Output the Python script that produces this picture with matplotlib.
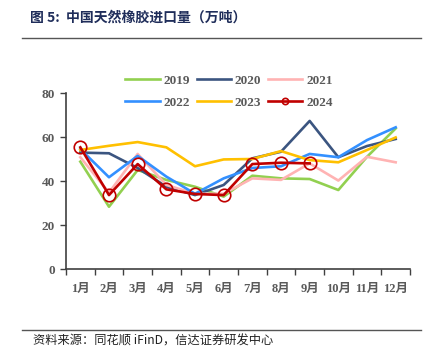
import matplotlib
matplotlib.use("Agg")
import matplotlib.pyplot as plt
from matplotlib.lines import Line2D
import numpy as np

months = ["1月", "2月", "3月", "4月", "5月", "6月", "7月", "8月", "9月", "10月", "11月", "12月"]
y2019 = [48.8, 28.3, 45.0, 40.5, 37.4, 32.9, 42.4, 41.2, 40.9, 35.9, 51.0, 63.9]
y2020 = [52.9, 52.6, 45.9, 37.4, 33.6, 38.2, 50.3, 53.3, 67.3, 50.8, 55.9, 59.1]
y2021 = [50.8, 34.7, 52.3, 38.2, 34.2, 34.2, 41.2, 40.5, 48.0, 40.2, 51.0, 48.5]
y2022 = [54.5, 41.7, 51.4, 42.0, 34.2, 41.2, 45.9, 46.7, 52.3, 50.8, 58.6, 64.4]
y2023 = [54.1, 56.0, 57.7, 55.3, 46.7, 49.8, 50.0, 53.6, 49.5, 48.5, 54.1, 59.8]
y2024 = [55.3, 33.6, 47.7, 36.2, 34.1, 33.6, 47.7, 48.3, 48.0]
yticks = [0, 20, 40, 60, 80]

W, H = 433, 349
fig = plt.figure(figsize=(W / 100, H / 100), dpi=100)
ax = fig.add_axes([66 / W, 1 - 269 / H, (410 - 66) / W, (269 - 93) / H])

serif = ['Liberation Serif', 'Noto Sans CJK SC']
gray = '#595959'
x = np.arange(len(months))
lw = 1.9
series = [("2019", y2019, '#92D050'), ("2020", y2020, '#3B5580'),
          ("2021", y2021, '#FFB3B3'), ("2022", y2022, '#3390FF'),
          ("2023", y2023, '#FFC000')]
handles = {}
for name, vals, c in series:
    h, = ax.plot(x[:len(vals)], vals, color=c, lw=lw, label=name)
    handles[name] = h
h24, = ax.plot(x[:len(y2024)], y2024, color='#C00000', lw=lw, marker='o', ms=9,
               mfc='none', mec='#C00000', mew=1.2, label='2024')
handles['2024'] = h24

ax.set_xlim(-0.5, len(months) - 0.5)
ax.set_ylim(0, 80)
ax.set_yticks(yticks)
ax.set_yticklabels([str(v) for v in yticks], fontfamily=serif, fontweight='bold',
                   color=gray, fontsize=9.5)
ax.set_xticks(x)
ax.set_xticklabels(months, fontfamily=serif, fontweight='bold', color=gray, fontsize=9)
ax.set_xticks(np.arange(-0.5, len(months), 1), minor=True)
ax.tick_params(axis='x', which='major', length=0, pad=10)
ax.tick_params(axis='x', which='minor', length=4, color='#404040', width=1)
ax.tick_params(axis='y', length=4, color='#404040', width=1, pad=4)
for s in ['top', 'right']:
    ax.spines[s].set_visible(False)
for s in ['left', 'bottom']:
    ax.spines[s].set_color('#404040')
    ax.spines[s].set_linewidth(1.2)

# legend filled column-wise; order so that rows read 2019 2020 2021 / 2022 2023 2024
order = ['2019', '2022', '2020', '2023', '2021', '2024']
leg = fig.legend([handles[k] for k in order], order, loc='center',
                 bbox_to_anchor=(229 / W, 1 - 91.5 / H), ncol=3, frameon=False,
                 handlelength=2.6, handletextpad=0.3, columnspacing=0.5,
                 labelspacing=0.75, markerscale=0.5,
                 prop={'family': serif, 'weight': 'bold', 'size': 9.5})
for t in leg.get_texts():
    t.set_color(gray)

fig.text(30 / W, 1 - 18 / H, "图 5:  中国天然橡胶进口量（万吨）", fontsize=10,
         fontweight='bold', color='#1F2D5A', va='center', ha='left',
         family=['Noto Sans CJK SC', 'DejaVu Sans'])
fig.add_artist(Line2D([22 / W, 421 / W], [1 - 38 / H, 1 - 38 / H], color='#555555', lw=1))
fig.add_artist(Line2D([22 / W, 421 / W], [1 - 330 / H, 1 - 330 / H], color='#555555', lw=1))
fig.text(33 / W, 1 - 341 / H, "资料来源：同花顺 iFinD，信达证券研发中心", fontsize=8.8,
         style='italic', color='#222222', va='center', ha='left',
         family=['Noto Sans CJK SC', 'DejaVu Sans'])

fig.savefig("out.png", dpi=100)
